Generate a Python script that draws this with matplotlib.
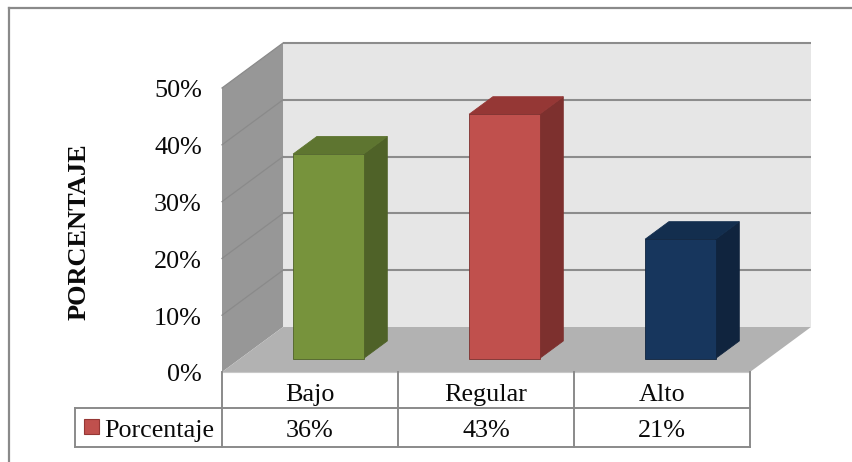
import matplotlib
matplotlib.use("Agg")
import matplotlib.pyplot as plt
from matplotlib.patches import Polygon, Rectangle
from matplotlib.lines import Line2D

plt.rcParams["font.family"] = ["Liberation Serif", "DejaVu Serif"]

# ---- data ----
categories = ["Bajo", "Regular", "Alto"]
values = [36, 43, 21]                      # percent
value_labels = ["36%", "43%", "21%"]
series_name = "Porcentaje"
y_ticks = [0, 10, 20, 30, 40, 50]
y_tick_labels = ["0%", "10%", "20%", "30%", "40%", "50%"]
y_title = "PORCENTAJE"

# ---- colours (face, side, top) ----
bar_colors = [
    ("#77933C", "#4F6228", "#5E7530"),
    ("#C0504D", "#7D302E", "#953735"),
    ("#17365D", "#10243E", "#132E4E"),
]
back_wall = "#E6E6E6"
side_wall = "#979797"
floor_col = "#B2B2B2"
grid_col = "#8C8C8C"
table_col = "#8A8A8A"
text_col = "#0A0A0A"
FS = 18.8

# ---- 3-D projection parameters (oblique) ----
DX, DY = 0.3466, 7.92      # full-depth shift in category / percent units
D0, D1 = 0.30, 0.69        # depth range occupied by bars
BAR_W = 0.40
X_LEFT, X_RIGHT = -0.5, len(categories) - 0.5
Y_MAX = 50

fig = plt.figure(figsize=(8.52, 4.62), dpi=100)
ax = fig.add_axes([0, 0, 1, 1])
ax.set_xlim(-1.7614, 3.0795)
ax.set_ylim(-15.845, 65.49)
ax.axis("off")

# outer chart border (top and left edges)
fig.add_artist(Line2D([9 / 852, 1], [1 - 8 / 462, 1 - 8 / 462],
                      transform=fig.transFigure, color=table_col, lw=1.6))
fig.add_artist(Line2D([9 / 852, 9 / 852], [0, 1 - 8 / 462],
                      transform=fig.transFigure, color=table_col, lw=1.6))

# walls and floor
ax.add_patch(Polygon([(X_LEFT + DX, DY), (X_RIGHT + DX, DY),
                      (X_RIGHT + DX, Y_MAX + DY), (X_LEFT + DX, Y_MAX + DY)],
                     closed=True, fc=back_wall, ec="none", zorder=1))
ax.add_patch(Polygon([(X_LEFT, 0), (X_LEFT + DX, DY),
                      (X_LEFT + DX, Y_MAX + DY), (X_LEFT, Y_MAX)],
                     closed=True, fc=side_wall, ec="none", zorder=1))
ax.add_patch(Polygon([(X_LEFT, 0), (X_RIGHT, 0),
                      (X_RIGHT + DX, DY), (X_LEFT + DX, DY)],
                     closed=True, fc=floor_col, ec="none", zorder=2))

# gridlines on back wall and side wall
for v in y_ticks:
    if v > 0:
        ax.plot([X_LEFT + DX, X_RIGHT + DX], [v + DY, v + DY],
                color=grid_col, lw=1.5, zorder=1.5, solid_capstyle="butt")
        ax.plot([X_LEFT, X_LEFT + DX], [v, v + DY],
                color="#8A8A8A", lw=0.9, zorder=1.5)

# bars
for i, (v, (cf, cs, ct)) in enumerate(zip(values, bar_colors)):
    xl = i - BAR_W / 2 + D0 * DX
    xr = i + BAR_W / 2 + D0 * DX
    yb = D0 * DY
    yt = v + D0 * DY
    ddx = (D1 - D0) * DX
    ddy = (D1 - D0) * DY
    # side face
    ax.add_patch(Polygon([(xr, yb), (xr + ddx, yb + ddy),
                          (xr + ddx, yt + ddy), (xr, yt)],
                         closed=True, fc=cs, ec=cs, lw=0.6, zorder=3))
    # top face
    ax.add_patch(Polygon([(xl, yt), (xr, yt), (xr + ddx, yt + ddy),
                          (xl + ddx, yt + ddy)],
                         closed=True, fc=ct, ec=ct, lw=0.6, zorder=3))
    # front face
    ax.add_patch(Polygon([(xl, yb), (xr, yb), (xr, yt), (xl, yt)],
                         closed=True, fc=cf, ec=cs, lw=0.6, zorder=4))

# value axis labels
for v, lab in zip(y_ticks, y_tick_labels):
    ax.text(-0.615, v - 0.6, lab, ha="right", va="center",
            fontsize=FS, color=text_col)

ax.text(-1.314, 24.7, y_title, rotation=90, ha="center", va="center",
        fontsize=19, fontweight="bold", color=text_col)

# ---- data table ----
row1_bottom = -6.34
row2_bottom = -13.2
legend_left = -1.335
tk = dict(color=table_col, lw=1.4, solid_capstyle="projecting", zorder=5)
ax.plot([X_LEFT, X_RIGHT], [0, 0], color="#C8C8C8", lw=0.8, zorder=5)
ax.plot([legend_left, X_RIGHT], [row1_bottom, row1_bottom], **tk)
ax.plot([legend_left, X_RIGHT], [row2_bottom, row2_bottom], **tk)
ax.plot([legend_left, legend_left], [row1_bottom, row2_bottom], **tk)
for k in range(len(categories) + 1):
    ax.plot([X_LEFT + k, X_LEFT + k], [0, row2_bottom], **tk)

for i, (cat, lab) in enumerate(zip(categories, value_labels)):
    ax.text(i, -5.1, cat, ha="center", va="baseline", fontsize=FS,
            color=text_col)
    ax.text(i, -11.45, lab, ha="center", va="baseline", fontsize=FS,
            color=text_col)

ax.add_patch(Rectangle((-1.284, -10.92), 0.0852, 2.64,
                       fc=bar_colors[1][0], ec=bar_colors[1][2], lw=0.8,
                       zorder=6))
ax.text(-1.170, -11.45, series_name, ha="left", va="baseline",
        fontsize=FS, color=text_col)

fig.savefig("out.png", dpi=100)
